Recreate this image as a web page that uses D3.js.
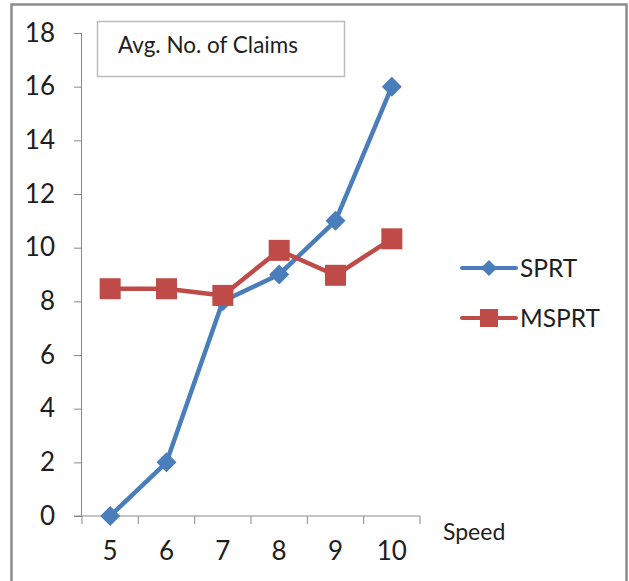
<!DOCTYPE html>
<html>
<head>
<meta charset="utf-8">
<script src="https://cdn.jsdelivr.net/npm/d3@7"></script>
<style>
  html, body { margin: 0; padding: 0; background: #fff; }
  svg { display: block; }
  svg text { font-family: Lato, "Open Sans", sans-serif; fill: #1e1e1e; }
</style>
</head>
<body>
<svg id="chart" width="629" height="581"></svg>
<script>
// Average number of claims against speed for the two sequential tests
const speeds = [5, 6, 7, 8, 9, 10];
const sprt = [0, 2, 8, 9, 11, 16];
const msprt = [8.47, 8.47, 8.22, 9.9, 8.97, 10.33];
const yTicks = [0, 2, 4, 6, 8, 10, 12, 14, 16, 18];
const seriesNames = ["SPRT", "MSPRT"];
const seriesColors = ["#4a7ebb", "#be4b48"];
const chartTitle = "Avg. No. of Claims";
const xTitle = "Speed";

const svg = d3.select("#chart");

// outer frame
svg.append("rect")
  .attr("x", 11.5).attr("y", 4.5)
  .attr("width", 615).attr("height", 600)
  .attr("fill", "none").attr("stroke", "#8c8c8c").attr("stroke-width", 2.5);

const x = d3.scaleBand().domain(speeds).range([82, 420]);
const y = d3.scaleLinear().domain([0, 18]).range([516, 33]);
const cx = d => x(d) + x.bandwidth() / 2;

// y axis
const yAxis = svg.append("g").attr("transform", "translate(82,0)")
  .call(d3.axisLeft(y).tickValues(yTicks).tickSize(8).tickPadding(19));
yAxis.attr("font-family", null).attr("font-size", null);
yAxis.select(".domain").attr("stroke", "#888").attr("d", `M-0.5,${y(18)}V${y(0)}`);
yAxis.selectAll(".tick line").attr("stroke", "#888");
yAxis.selectAll(".tick text").style("font-size", "26px").attr("fill", "#1e1e1e");

// x axis: ticks at category boundaries, labels centred
const xAxisG = svg.append("g").attr("transform", `translate(0,${y(0)})`);
xAxisG.append("line").attr("x1", 74).attr("x2", 420).attr("y1", 0).attr("y2", 0)
  .attr("stroke", "#888");
const bounds = speeds.map(d => x(d)).concat([x.range()[1]]);
xAxisG.selectAll("line.tk").data(bounds).join("line").attr("class", "tk")
  .attr("x1", d => d).attr("x2", d => d).attr("y1", 0).attr("y2", 8)
  .attr("stroke", "#888");
xAxisG.selectAll("text").data(speeds).join("text")
  .attr("x", d => cx(d)).attr("y", 44)
  .attr("text-anchor", "middle").style("font-size", "26px")
  .text(d => d);

svg.append("text").attr("x", 443).attr("y", 540).style("font-size", "23px").text(xTitle);

// title box
svg.append("rect").attr("x", 97.5).attr("y", 21.5).attr("width", 247).attr("height", 55)
  .attr("fill", "#fff").attr("stroke", "#bbb").attr("stroke-width", 1.5);
svg.append("text").attr("x", 118).attr("y", 53).style("font-size", "22.5px").text(chartTitle);

const line = d3.line().x((d, i) => cx(speeds[i])).y(d => y(d));

const diamond = d3.symbol().type(d3.symbolSquare).size(200);

function drawSeries(vals, color, kind) {
  svg.append("path").datum(vals).attr("d", line)
    .attr("fill", "none").attr("stroke", color).attr("stroke-width", 4.5)
    .attr("stroke-linejoin", "round");
  const g = svg.append("g");
  vals.forEach((v, i) => {
    if (kind === "diamond") {
      g.append("path").attr("d", diamond)
        .attr("transform", `translate(${cx(speeds[i])},${y(v)}) rotate(45)`)
        .attr("fill", color);
    } else {
      g.append("rect").attr("x", cx(speeds[i]) - 10.5).attr("y", y(v) - 10.5)
        .attr("width", 21).attr("height", 21).attr("fill", color);
    }
  });
}

drawSeries(sprt, seriesColors[0], "diamond");
drawSeries(msprt, seriesColors[1], "square");

// legend
const leg = [ {name: seriesNames[0], color: seriesColors[0], kind: "diamond", y: 268},
              {name: seriesNames[1], color: seriesColors[1], kind: "square", y: 318} ];
leg.forEach(l => {
  svg.append("line").attr("x1", 462).attr("x2", 516).attr("y1", l.y).attr("y2", l.y)
    .attr("stroke", l.color).attr("stroke-width", 4).attr("stroke-linecap", "round");
  if (l.kind === "diamond") {
    svg.append("path").attr("d", d3.symbol().type(d3.symbolSquare).size(130))
      .attr("transform", `translate(489,${l.y}) rotate(45)`).attr("fill", l.color);
  } else {
    svg.append("rect").attr("x", 480).attr("y", l.y - 9).attr("width", 18).attr("height", 18)
      .attr("fill", l.color);
  }
  svg.append("text").attr("x", 520).attr("y", l.y + 9).style("font-size", "24.5px").text(l.name);
});
</script>
</body>
</html>
